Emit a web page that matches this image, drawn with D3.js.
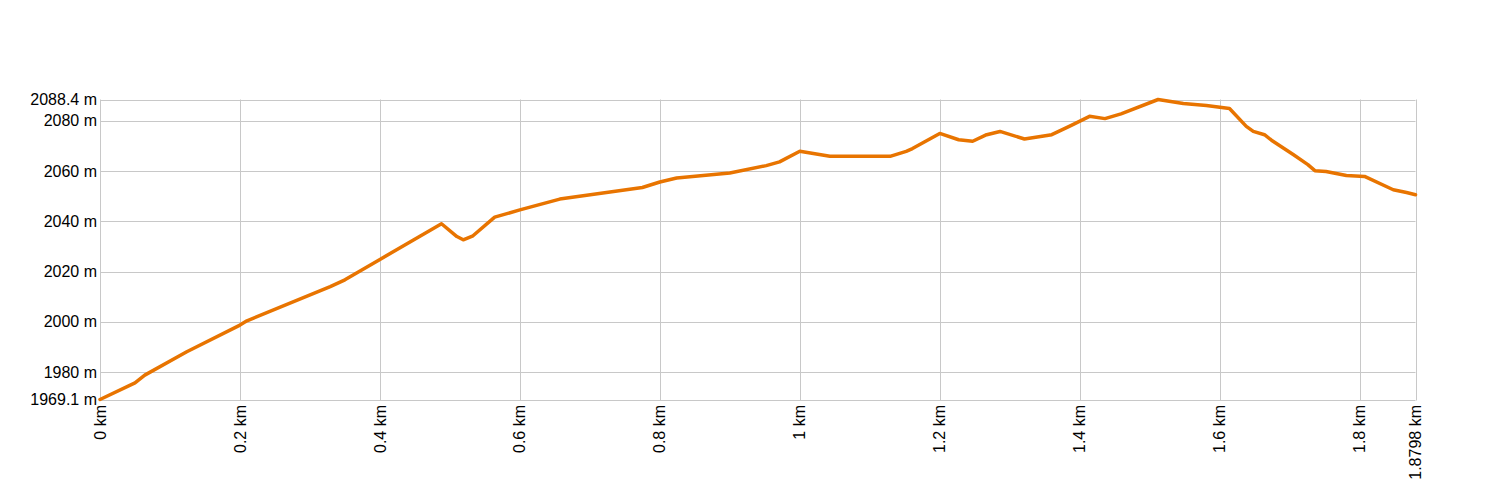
<!DOCTYPE html>
<html><head><meta charset="utf-8">
<script src="https://cdn.jsdelivr.net/npm/d3@7"></script>
<style>body{margin:0;background:#fff}svg{display:block}text{font-family:"Liberation Sans",Arial,sans-serif;font-size:16px;fill:#000}</style>
</head><body><svg id="c" width="1500" height="500"></svg>
<script>
const distKm = [0,0.05,0.064,0.124,0.2,0.21,0.329,0.35,0.4,0.488,0.51,0.519,0.533,0.564,0.6,0.657,0.775,0.8,0.824,0.9,0.952,0.971,1.0,1.043,1.129,1.152,1.161,1.2,1.227,1.247,1.267,1.286,1.321,1.36,1.385,1.414,1.436,1.459,1.512,1.548,1.581,1.614,1.638,1.648,1.664,1.674,1.705,1.726,1.736,1.752,1.781,1.807,1.848,1.867,1.8798];
const elevM = [1969.1,1975.7,1978.8,1988.1,1998.7,2000.4,2014,2016.7,2024.8,2039,2033.9,2032.6,2034.2,2041.6,2044.5,2048.8,2053.4,2055.6,2057.2,2059.2,2062.1,2063.6,2067.8,2065.8,2065.8,2067.8,2068.9,2074.9,2072.4,2071.8,2074.4,2075.7,2072.7,2074.4,2077.7,2081.7,2080.8,2082.7,2088.4,2086.8,2086,2084.8,2077.7,2075.7,2074.4,2072.2,2066.5,2062.5,2060.1,2059.8,2058.2,2057.8,2052.5,2051.4,2050.5];
const xTicks = [0,0.2,0.4,0.6,0.8,1,1.2,1.4,1.6,1.8,1.8798];
const yTicks = [1969.1,1980,2000,2020,2040,2060,2080,2088.4];

const svg = d3.select("#c");
const x = d3.scaleLinear().domain([0,1.8798]).range([100,1415.5]);
const y = d3.scaleLinear().domain([1969.1,2088.4]).range([399.5,99.5]);

const g = svg.append("g");
g.selectAll("line.h").data(yTicks).join("line")
  .attr("x1",100).attr("x2",1415.5)
  .attr("y1",d=>Math.round(y(d))+0.5).attr("y2",d=>Math.round(y(d))+0.5)
  .attr("stroke","#c8c8c8").attr("stroke-width",1);
g.selectAll("line.v").data(xTicks).join("line")
  .attr("y1",99.5).attr("y2",400.5)
  .attr("x1",d=>Math.round(x(d))+0.5).attr("x2",d=>Math.round(x(d))+0.5)
  .attr("stroke","#c8c8c8").attr("stroke-width",1);

g.selectAll("text.yl").data(yTicks).join("text")
  .attr("x",97).attr("y",d=>y(d)).attr("dy","0.35em")
  .attr("text-anchor","end").text(d=>d+" m");

g.selectAll("text.xl").data(xTicks).join("text")
  .attr("transform",d=>`translate(${x(d)},405) rotate(-90)`)
  .attr("dy","0.35em").attr("text-anchor","end").text(d=>d+" km");

const line = d3.line().x((d,i)=>x(distKm[i])).y(d=>y(d));
svg.append("path").datum(elevM).attr("d",line)
  .attr("fill","none").attr("stroke","#e87400").attr("stroke-width",3.5)
  .attr("stroke-linejoin","round").attr("stroke-linecap","round");
</script></body></html>
